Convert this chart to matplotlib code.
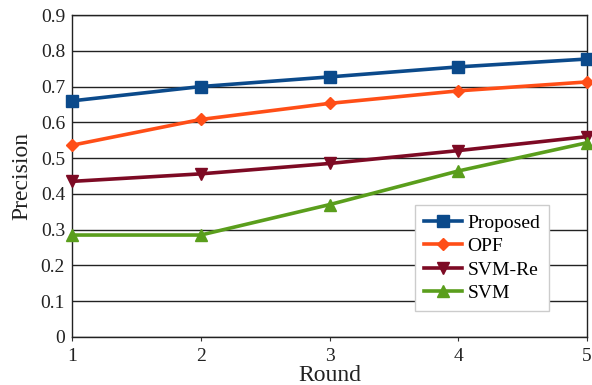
import numpy as np
import matplotlib
matplotlib.use('Agg')
import matplotlib.pyplot as plt

plt.rcParams['font.family'] = ['Liberation Serif', 'DejaVu Serif']

rounds = [1, 2, 3, 4, 5]
proposed = [0.660, 0.700, 0.727, 0.755, 0.777]
opf = [0.536, 0.608, 0.653, 0.688, 0.713]
svm_re = [0.435, 0.456, 0.485, 0.521, 0.560]
svm = [0.285, 0.285, 0.370, 0.464, 0.543]

fig = plt.figure(figsize=(5.92, 3.85), dpi=100)
ax = fig.add_axes([0.1216, 0.1247, 0.8700, 0.8363])

ax.set_axisbelow(True)
ax.yaxis.grid(True, color='#222222', linewidth=1.0)

ax.plot(rounds, proposed, color='#0b4a8b', marker='s', markersize=9, linewidth=2.6, label='Proposed', clip_on=False, zorder=5)
ax.plot(rounds, opf, color='#ff4e17', marker='D', markersize=6.5, linewidth=2.6, label='OPF', clip_on=False, zorder=5)
ax.plot(rounds, svm_re, color='#7d0a24', marker='v', markersize=9, linewidth=2.6, label='SVM-Re', clip_on=False, zorder=5)
ax.plot(rounds, svm, color='#5a9e1c', marker='^', markersize=9, linewidth=2.6, label='SVM', clip_on=False, zorder=5)

ax.set_xlim(1, 5)
ax.set_ylim(0, 0.9)
ax.set_xticks(rounds)
ax.set_yticks(np.arange(0, 0.91, 0.1))
ax.set_yticklabels(['0'] + ['%.1f' % v for v in np.arange(0.1, 0.91, 0.1)])
ax.tick_params(labelsize=14, labelcolor='#222222')
ax.tick_params(axis='x', direction='out', length=3, color='#333333', pad=5)
ax.tick_params(axis='y', length=0, pad=5)
for s in ax.spines.values():
    s.set_color('#222222')
    s.set_linewidth(1.0)

ax.set_xlabel('Round', fontsize=17, labelpad=0, color='#222222')
ax.set_ylabel('Precision', fontsize=17, labelpad=6, color='#222222')

leg = ax.legend(loc='lower right', bbox_to_anchor=(0.926, 0.081), borderaxespad=0, fontsize=14,
                frameon=True, fancybox=False, edgecolor='#cccccc', framealpha=1, handlelength=2.0,
                borderpad=0.45, labelspacing=0.3, handletextpad=0.25)

plt.savefig('out.png', dpi=100)
